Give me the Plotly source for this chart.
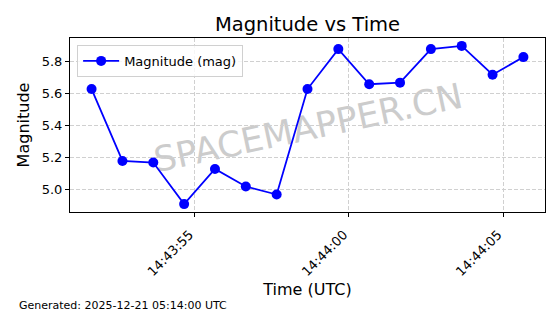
import plotly.graph_objects as go

times = ["2025-12-21 14:43:51.66", "2025-12-21 14:43:52.66", "2025-12-21 14:43:53.66",
         "2025-12-21 14:43:54.66", "2025-12-21 14:43:55.66", "2025-12-21 14:43:56.66",
         "2025-12-21 14:43:57.66", "2025-12-21 14:43:58.66", "2025-12-21 14:43:59.66",
         "2025-12-21 14:44:00.66", "2025-12-21 14:44:01.66", "2025-12-21 14:44:02.66",
         "2025-12-21 14:44:03.66", "2025-12-21 14:44:04.66", "2025-12-21 14:44:05.66"]
magnitudes = [5.63, 5.18, 5.17, 4.91, 5.13, 5.02, 4.97, 5.63, 5.88, 5.66, 5.67, 5.88, 5.90, 5.72, 5.83]
x_range = ["2025-12-21 14:43:50.96", "2025-12-21 14:44:06.36"]
y_range = [4.8605, 5.9495]
y_ticks = [5.0, 5.2, 5.4, 5.6, 5.8]

FONT = "DejaVu Sans"

fig = go.Figure()
fig.add_trace(go.Scatter(
    x=times, y=magnitudes, mode="lines+markers", name="Magnitude (mag)",
    line=dict(color="#0000ff", width=1.8),
    marker=dict(color="#0000ff", size=10),
))

fig.update_layout(
    width=560, height=314,
    margin=dict(l=70, r=15, t=38, b=102),
    paper_bgcolor="white", plot_bgcolor="white",
    font=dict(family=FONT, color="black", size=13),
    title=dict(text="Magnitude vs Time", x=0.5, xref="paper", xanchor="center",
               y=1 - 24 / 314, yref="container", yanchor="middle",
               font=dict(size=19.5, family=FONT, color="black")),
    showlegend=True,
    legend=dict(x=0.015, y=0.96, xanchor="left", yanchor="top",
                bgcolor="rgba(255,255,255,0.8)", bordercolor="#d0d0d0", borderwidth=1,
                font=dict(size=13, family=FONT), itemwidth=36,
                tracegroupgap=0),
)

fig.update_xaxes(
    type="date", range=x_range, tick0="2025-12-21 14:43:55", dtick=5000,
    tickformat="%H:%M:%S", tickangle=-45, ticks="outside", ticklen=4, tickcolor="black",
    ticklabelshift=-5, ticklabelstandoff=5,
    showgrid=True, gridcolor="#d0d0d0", griddash="4px,2px", gridwidth=0.8,
    showline=True, linecolor="black", linewidth=1, mirror=True,
    tickfont=dict(size=13, family=FONT),
    title=dict(text="Time (UTC)", font=dict(size=16, family=FONT), standoff=5),
    zeroline=False,
)
fig.update_yaxes(
    range=y_range, tickvals=y_ticks, tickformat=".1f", ticks="outside", ticklen=4,
    tickcolor="black",
    showgrid=True, gridcolor="#d0d0d0", griddash="4px,2px", gridwidth=0.8,
    showline=True, linecolor="black", linewidth=1, mirror=True,
    tickfont=dict(size=13, family=FONT),
    title=dict(text="Magnitude", font=dict(size=16, family=FONT), standoff=8),
    zeroline=False,
)

# watermark (drawn below traces)
fig.add_shape(
    type="rect", xref="paper", yref="paper", x0=0.2, x1=0.8, y0=0.3, y1=0.7,
    line=dict(width=0), fillcolor="rgba(0,0,0,0)", layer="below",
    label=dict(text="SPACEMAPPER.CN", textangle=-12, textposition="middle center",
               font=dict(size=35, family=FONT, color="#cccccc")),
)

fig.add_annotation(
    text="Generated: 2025-12-21 05:14:00 UTC", xref="paper", yref="paper",
    x=(17 - 70) / 475, y=(212 - 305) / 174, xanchor="left", yanchor="middle",
    showarrow=False, font=dict(size=11, family=FONT, color="black"),
)

fig.write_html("out.html")
